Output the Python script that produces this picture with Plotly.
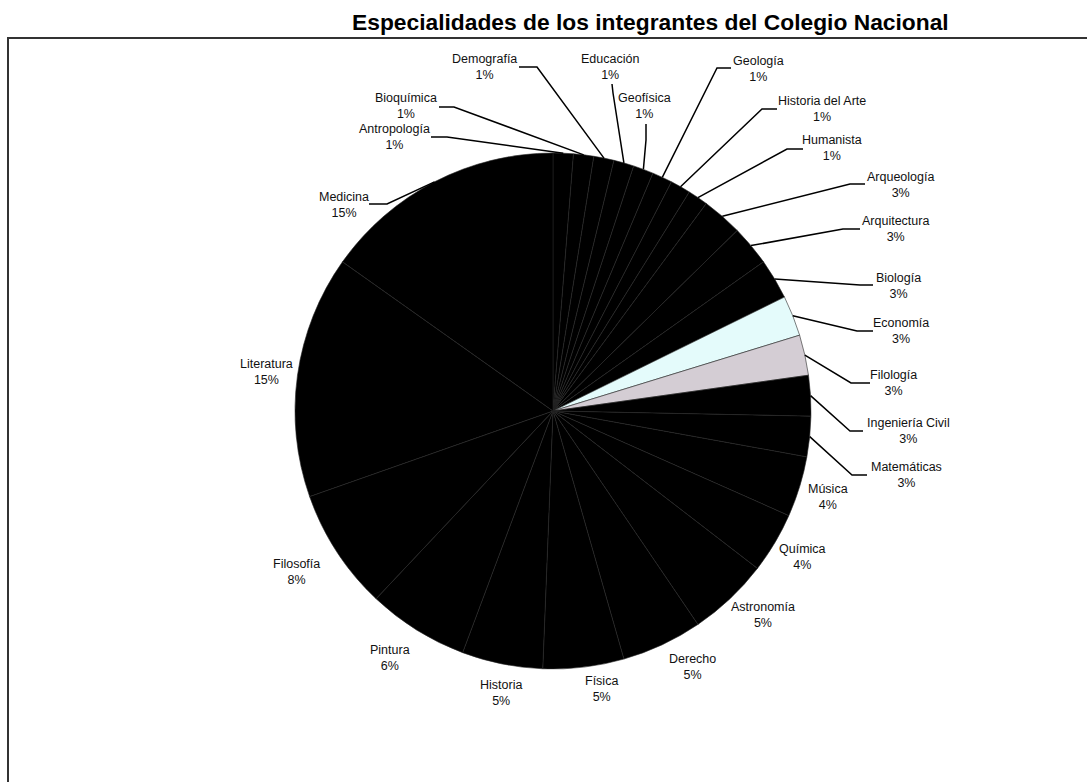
import math
import plotly.graph_objects as go

# ---------------- data ----------------
categories = ["Antropología", "Bioquímica", "Demografía", "Educación", "Geofísica",
              "Geología", "Historia del Arte", "Humanista", "Arqueología", "Arquitectura",
              "Biología", "Economía", "Filología", "Ingeniería Civil", "Matemáticas",
              "Música", "Química", "Astronomía", "Derecho", "Física", "Historia",
              "Pintura", "Filosofía", "Literatura", "Medicina"]
counts = [1, 1, 1, 1, 1, 1, 1, 1, 2, 2, 2, 2, 2, 2, 2, 3, 3, 4, 4, 4, 4, 5, 6, 12, 12]
title_text = "Especialidades de los integrantes del Colegio Nacional"

# ---------------- layout constants (pixels) ----------------
W, H = 1087, 782
CX, CY, R = 553, 411, 258

special_colors = {"Economía": "#e4fbfb", "Filología": "#d4cdd4"}
colors = [special_colors.get(c, "#000000") for c in categories]

# label centre, leader-line attach point, elbow point (pixels)
label_layout = {
    "Antropología": ((394, 137), (431, 137), (447, 137)),
    "Bioquímica": ((406, 106), (439, 107), (454, 107)),
    "Demografía": ((484, 67), (519, 67), (537, 67)),
    "Educación": ((610, 67), (612, 84), (613, 93)),
    "Geofísica": ((644, 106), (646, 124), (646, 140)),
    "Geología": ((758, 69), (731, 68), (717, 68)),
    "Historia del Arte": ((822, 109), (777, 109), (762, 109)),
    "Humanista": ((832, 148), (803, 149), (787, 149)),
    "Arqueología": ((900, 185), (865, 184), (850, 184)),
    "Arquitectura": ((895, 229), (860, 229), (843, 229)),
    "Biología": ((898, 286), (873, 285), (860, 285)),
    "Economía": ((901, 331), (873, 331), (857, 331)),
    "Filología": ((893, 383), (870, 383), (851, 383)),
    "Ingeniería Civil": ((908, 431), (863, 431), (850, 431)),
    "Matemáticas": ((906, 475), (867, 475), (852, 475)),
    "Música": ((828, 497), None, None),
    "Química": ((802, 557), None, None),
    "Astronomía": ((763, 615), None, None),
    "Derecho": ((692, 667), None, None),
    "Física": ((601, 689), None, None),
    "Historia": ((501, 693), None, None),
    "Pintura": ((390, 658), None, None),
    "Filosofía": ((296, 572), None, None),
    "Literatura": ((266, 372), None, None),
    "Medicina": ((344, 205), (369, 204), (387, 204)),
}


def px(x):
    return x / W


def py(y):
    return 1 - y / H


FONT = "Arial, Liberation Sans, sans-serif"

fig = go.Figure()
fig.add_trace(go.Pie(
    labels=categories,
    values=counts,
    sort=False,
    direction="clockwise",
    rotation=0,
    textinfo="none",
    marker=dict(colors=colors, line=dict(color="#262626", width=0.6)),
    domain=dict(x=[px(CX - R), px(CX + R)], y=[py(CY + R), py(CY - R)]),
    showlegend=False,
    hovertemplate="%{label}: %{value} (%{percent})<extra></extra>",
))

total = sum(counts)
annotations = []
shapes = []
cum = 0
for cat, v in zip(categories, counts):
    mid = (cum + v / 2) / total * 2 * math.pi
    cum += v
    rim_x = CX + R * math.sin(mid)
    rim_y = CY - R * math.cos(mid)
    (lx, ly), attach, elbow = label_layout[cat]
    pct = round(100 * v / total)
    annotations.append(dict(
        x=px(lx), y=py(ly), xref="paper", yref="paper",
        text=f"{cat}<br>{pct}%", showarrow=False,
        xanchor="center", yanchor="middle", align="center",
        font=dict(family=FONT, size=12.5, color="#111111"),
    ))
    if attach is not None:
        path = (f"M {px(attach[0])},{py(attach[1])} L {px(elbow[0])},{py(elbow[1])} "
                f"L {px(rim_x)},{py(rim_y)}")
        shapes.append(dict(type="path", path=path, xref="paper", yref="paper",
                           line=dict(color="#000000", width=1.5)))

# title
annotations.append(dict(
    x=px(650), y=py(22), xref="paper", yref="paper",
    text=f"<b>{title_text}</b>", showarrow=False,
    xanchor="center", yanchor="middle",
    font=dict(family=FONT, size=22.8, color="#000000"),
))

# chart-area border
shapes.append(dict(type="rect", xref="paper", yref="paper",
                   x0=px(8), y0=py(H + 40), x1=px(W + 40), y1=py(38),
                   line=dict(color="#333333", width=2)))

fig.update_layout(
    width=W, height=H, autosize=False,
    margin=dict(l=0, r=0, t=0, b=0),
    paper_bgcolor="white", plot_bgcolor="white",
    annotations=annotations, shapes=shapes,
)

fig.write_html("out.html", config={"displayModeBar": False},
               post_script="document.body.style.margin='0';")
